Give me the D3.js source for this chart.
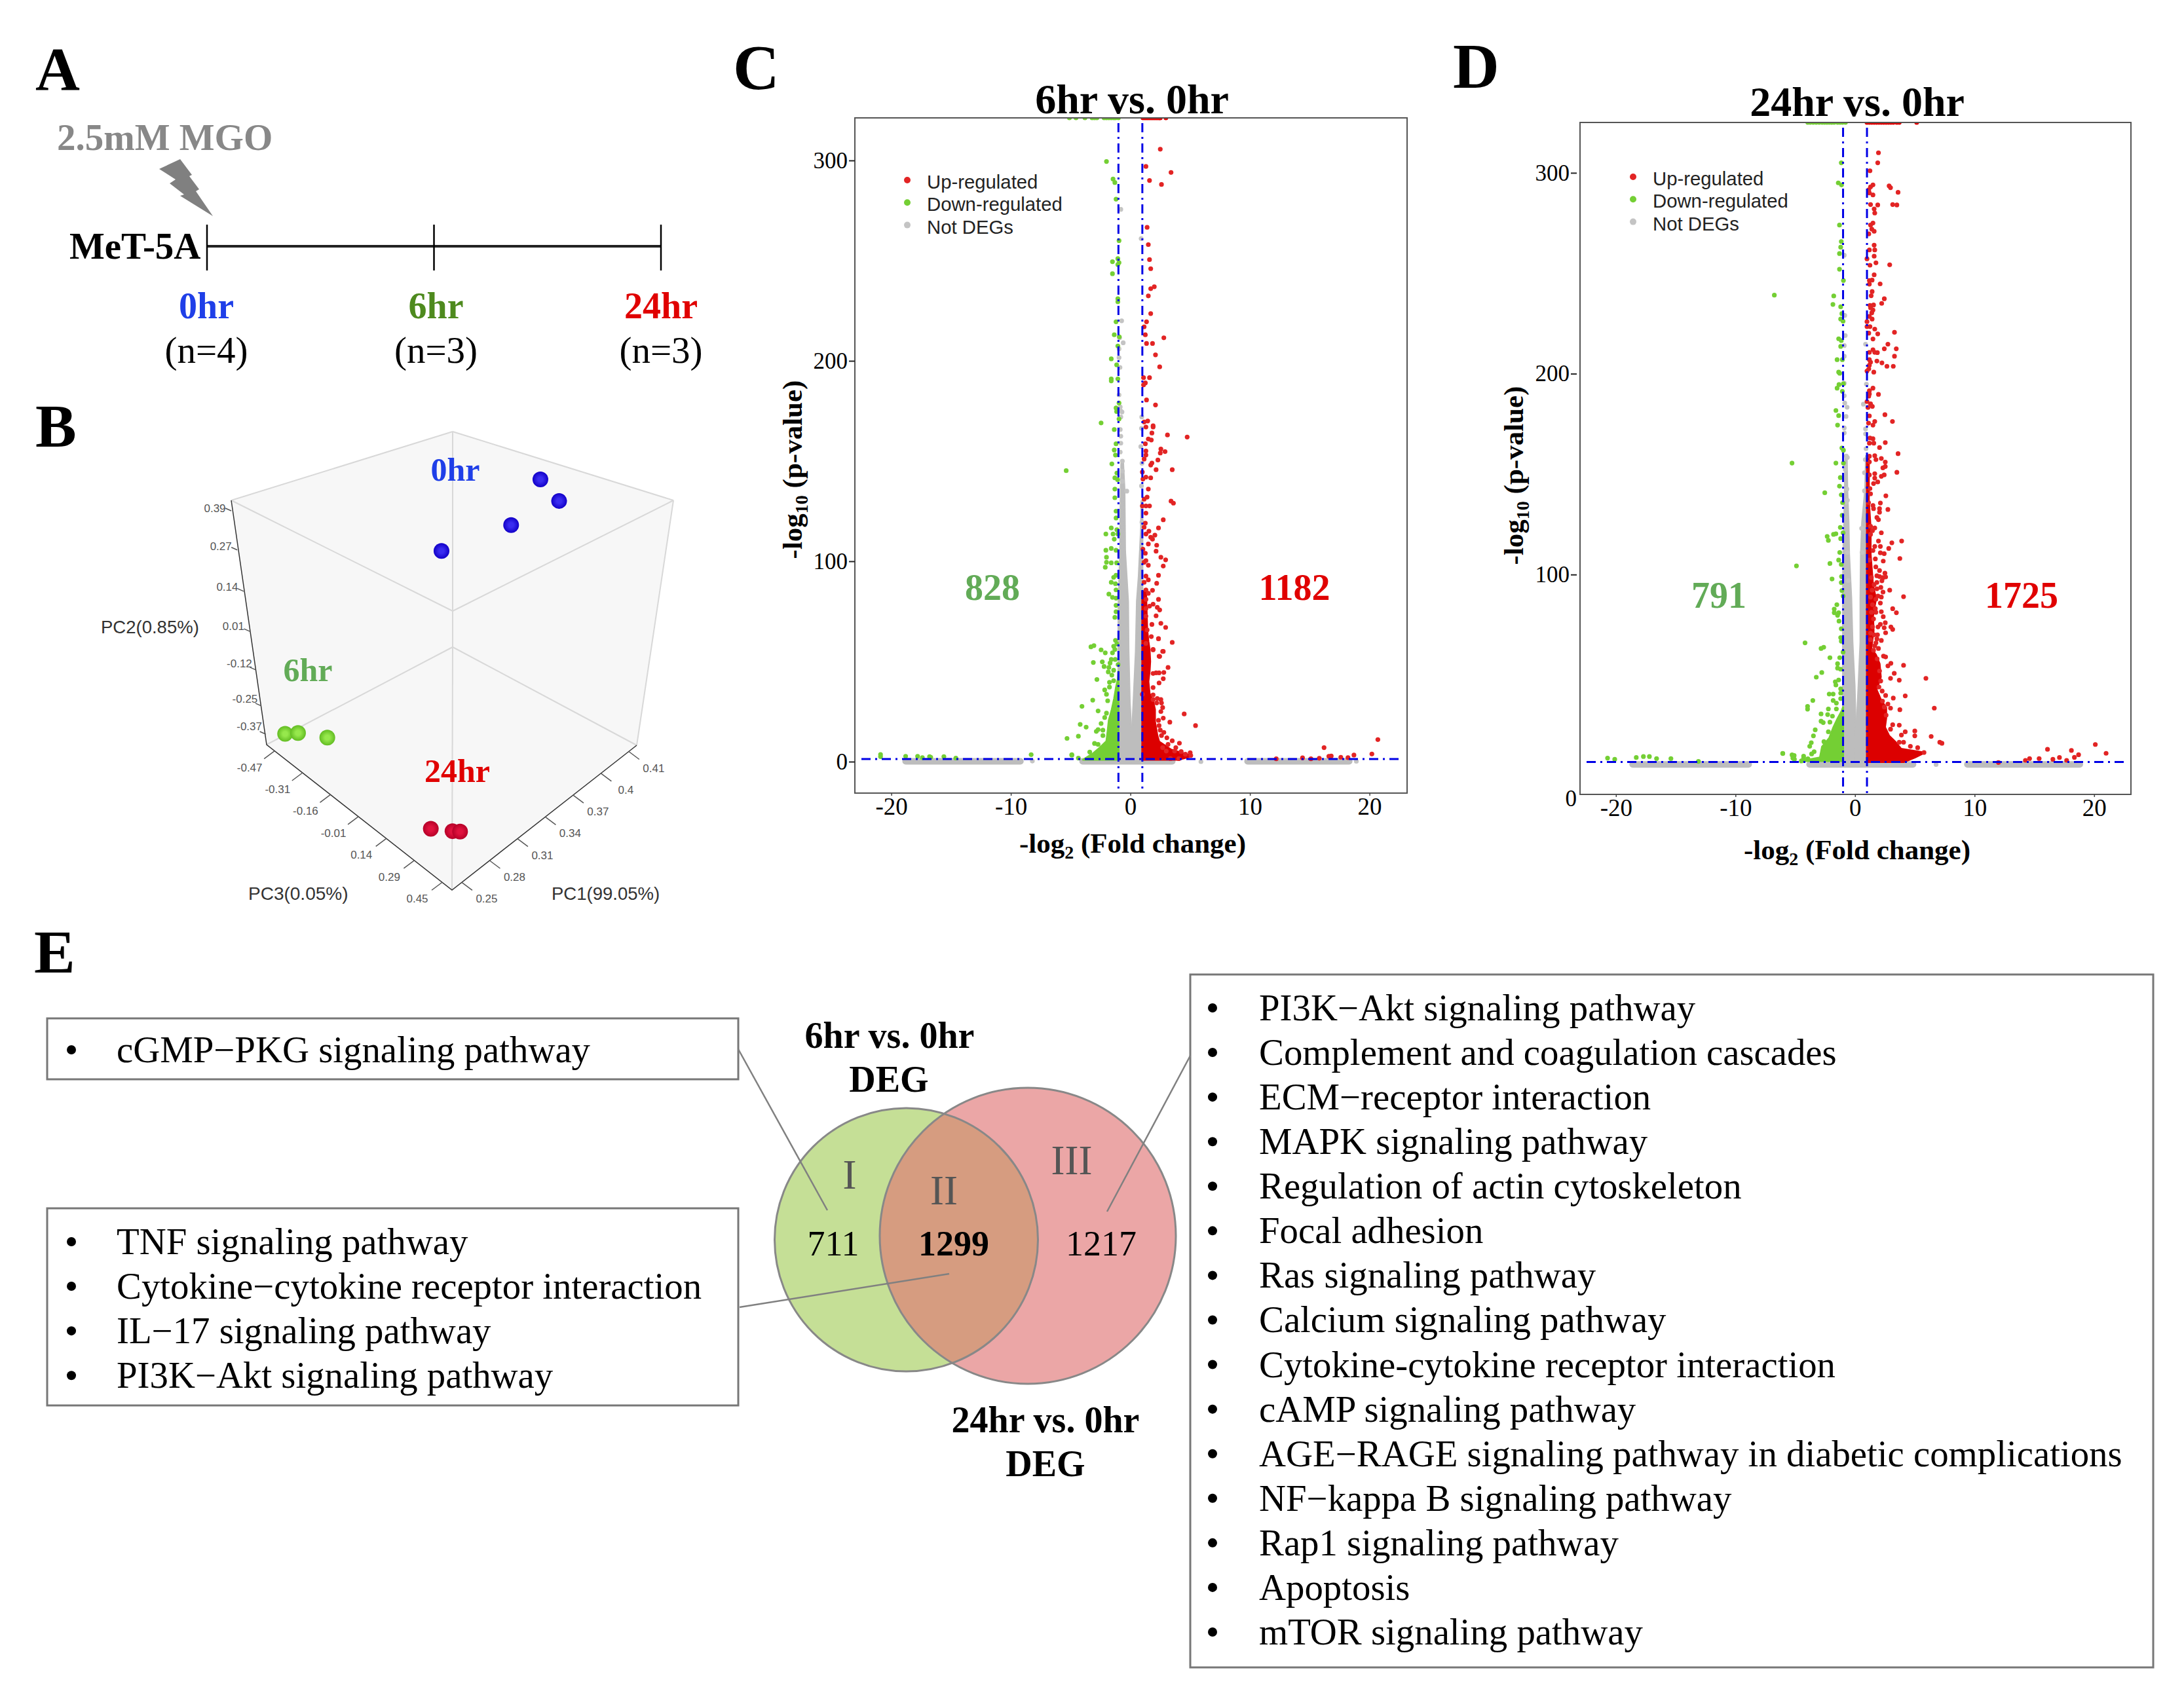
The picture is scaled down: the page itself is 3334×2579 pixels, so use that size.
<!DOCTYPE html>
<html>
<head>
<meta charset="utf-8">
<script src="https://cdn.jsdelivr.net/npm/d3@7"></script>
<style>
body { margin: 0; background: #fff; }
text { font-family: "Liberation Serif", serif; }
.sans { font-family: "Liberation Sans", sans-serif; }
</style>
</head>
<body>
<div id="svg"></div>
<script>
// panel A
var timeLabels = ['0hr', '6hr', '24hr'];
var timeHours = [0, 1, 2];
var timeN = ['(n=4)', '(n=3)', '(n=3)'];

// panel B, PCA values
var pc1Ticks = ['0.25', '0.28', '0.31', '0.34', '0.37', '0.4', '0.41'];
var pc2Ticks = [-0.37, -0.25, -0.12, 0.01, 0.14, 0.27, 0.39];
var pc3Ticks = ['0.45', '0.29', '0.14', '-0.01', '-0.16', '-0.31', '-0.47'];
var pcaZero = [[0.388, 0.314, 0.031], [0.383, 0.314, 0.139], [0.352, 0.314, 0.114], [0.312, 0.314, 0.049]];
var pcaSix = [[0.258, -0.332, -0.419], [0.264, -0.332, -0.390], [0.274, -0.332, -0.303]];
var pcaTwentyFour = [[0.268, -0.332, 0.242], [0.276, -0.332, 0.303], [0.279, -0.332, 0.323]];

// panel C, volcano 6hr vs 0hr, [log2fc, -log10p]
var upC = [[2.5,305.6],[1.3,297],[3.4,294],[1.6,290],[2.6,288],[1.4,266.6],[1.5,258],[1.6,250.5],[1.7,246],[2,237],[1.7,236],[1.5,232.4],[1.7,223.6],[1.35,219.5],[1.15,217],[1.25,213],[2.8,211.5],[1.35,208.7],[1.85,208.7],[2.1,203],[2.45,197],[1.1,191.6],[1.6,191.6],[1.25,189],[1.1,188],[1.35,180.5],[2.1,178],[1.45,170],[1.15,169.5],[1.9,167.6],
[1.3,167],[1.9,167],[1.8,164],[1.5,161],[1.75,160.5],[3.1,163],[4.75,162],[1.25,158.6],[1.3,155],[2.55,156],[2.9,154.7],[2.5,154],[1.3,153],[1.15,151],[2.3,150.5],[1.8,149],[1.7,148],[3.5,145.7],[2.15,145.7],[1,144.5],[1.3,142],[1.7,141.6],[1.05,141],[1.5,136],[1.4,132],[1.15,131],[3.4,130],[3.6,129],[1,127.6],[1.3,127.6],[1.6,127.6],[1.3,124],[2.75,120.7],[1.25,119],[2.35,116.6],[1.15,117],[1.55,115],[2.05,113],[1.3,113.6],[1.7,112],[1.85,111],[1.5,108.6],[2.2,108],[1.05,106],[2.15,105],[1.25,104],[2.55,102],[2.95,100.7],[1.3,100.3],[1.15,99.5],[1.5,98],[2.75,97.6],[2.35,93],[1.3,92.6],[1.5,90.7],[2.2,89],[1.15,89.5],[1.3,85.7],[1.85,85.5],[1.5,84],[2.35,81],[1.3,81],[1.9,78.6],[2.25,77],[2.45,75.7],[1.6,77.6],[1.3,76.4],[2.15,72.8],[1.3,72.6],[2.55,69],[2.95,67],[1.8,68.5],[1.4,65.7],[1.75,62.4],[2.35,61.3],[3.5,59.5],[1.3,59],[1.9,56],[2.75,55],[2.4,52.6],[3.15,47],[2.8,44.5],[2.4,44.3],[2.15,44.3],[1.9,44],[2.75,41.4],[2.4,39.3],[4.5,23.8],[5.45,18],
[2.35,61.4],[2.7,55],[2.45,52.5],[1.9,55.8],[1.9,37],[1,33.6],[1.9,33.3],[2.25,31.5],[2.55,31],[2.6,29.3],[2.7,27],[2.55,25],[2.2,29.3],[1.9,31],[2.75,21.7],[2.35,20.6],[3.3,19.7],[2.4,18],[2.5,15.7],[2.8,14.6],[2.6,13],[3.05,11.9],[3.5,10.4],[3.15,8.6],[4.1,9.2],[3.8,7],[3.7,5.3],[4.25,5],[5,4.5],[5.05,3.1],[4.6,3.7],[4.05,1.5],[3.35,1.5],[2.7,7],[3,5.3],
[16.2,7],[20.7,11],[20.2,3.8],[18.7,3.3],[16.6,2.7],[16.8,2.8],[17.6,2.2],[18.2,2],[12.2,1.4],[14.4,1.9],[15.8,1.7],[15.1,1.4]];
var downC = [[-2,299.5],[-1.45,290.7],[-1.3,289],[-1.2,280.7],[-0.95,260],[-1.5,249.5],[-1.05,251],[-0.95,249],[-1.05,248],[-1.5,243.5],[-1.05,231],[-1.05,229.5],[-1.2,219.5],[-1.35,213],[-0.93,212],[-1.05,207.4],[-1.6,201],[-1.15,198],[-1.6,191],[-1.6,190],[-1.05,191],[-0.95,179],[-1.2,176.5],[-1.15,174.7],[-0.95,171],[-2.45,169],
[-1.35,165.7],[-1.2,158.6],[-1.35,155.5],[-1.25,153],[-1.55,148.6],[-5.37,145.2],[-1.13,144],[-1.3,141.6],[-1.07,140.7],[-1.3,136],[-1.3,131.7],[-1.2,125],[-1.2,121.6],[-1.6,116.6],[-1.13,115.7],[-2.05,113.6],[-1.45,113.6],[-1.04,113.6],[-1.35,111],[-2.05,105.5],[-1.6,106.4],[-1.2,105.5],[-2,102],[-2,99.5],[-1.6,99.2],[-1.15,99.2],[-2.1,97],[-1.4,92],[-1.2,93],[-1.6,89.5],[-1.25,88.8],[-1.2,85.7],[-1.8,83.6],[-1.5,82],[-1.2,81.6],[-1.2,78],[-1.2,74.8],[-1.3,72],[-3.3,57.3],[-3.05,57.9],[-1.25,60.5],[-1.4,57.6],
[-2.45,55.8],[-2.1,54.3],[-1.5,54.3],[-1.13,58.7],[-1.3,56],[-2.35,49.8],[-3.1,49.5],[-1.7,49.2],[-1.6,51],[-1.27,51],[-2.2,47.5],[-1.8,47],[-1.03,48.4],[-1.85,44.8],[-1.4,45.6],[-1.55,43.2],[-2.8,41],[-1.75,39.6],[-1.4,40.4],[-2.15,35.8],[-2,33.6],[-1.75,37.2],[-3.15,30.7],[-1.9,30.4],[-4.05,27.6],[-2.7,25.3],[-2,24.2],[-2.15,22],[-4.2,18.6],[-3.7,17.2],[-2.45,19],[-2.85,15.1],[-2.7,16],[-4.35,12.7],[-5.3,11.6],[-2.3,15.7],[-2.3,13],[-3,9.1],[-2.7,8.6],[-4.9,3.5],[-4.35,1.8],[-3.4,4.8],
[-20.9,2.5],[-20.9,3.6],[-18.8,2.7],[-17.8,2.7],[-17.4,2],[-16.8,2.5],[-16.7,2.2],[-15.6,2.5],[-14.6,1.8],[-8.3,3.5],[-4.9,3.2]];
var grayC = [[-0.8,275.6],[0.9,261],[-0.73,220],[-0.9,211.5],[-0.6,209],[-0.95,206],[-0.95,201.6],[-0.87,196.7],[-0.95,183],[-0.85,177],[-0.8,175],[-0.7,174.5],[-0.8,172],[0.95,172],
[-0.85,165.7],[-0.8,162.4],[-0.8,158.9],[0.93,166.3],[0.87,157.2],[-0.85,154.5],[-0.67,150],[-0.67,145],[-0.67,139.8],[0.97,148.9],[0.93,137.6],[0.97,119.5],[-0.3,135],[-8.2,0.3],[5.9,0],[18.9,0.2]];
var topDownC = [-5.1,-4.55,-3.8,-3.2,-3,-2.8,-2.2,-2,-1.8,-1.6,-1.4,-1.25,-1];
var topUpC = [1.05,1.2,1.35,1.5,1.65,1.8,1.95,2.1,2.25,2.4,2.5,2.97];
// dense clouds, [-log10p, inner edge, outer edge]
var denseUpC = [[1,1,4],[2.8,1,5.15],[4,1,4.5],[6,1,3.4],[10,1,2.4],[13,1,2.25],[20,1,2.05],[26,1,2.05],[30,1,1.9],[34,1,1.6],[40,1,1.5],[45,1,1.6],[50,1,1.65],[56,1,1.6],[60,1,1.5],[66,1,1.4],[85,1,1.3]];
var denseDownC = [[1,-1,-3.95],[4.2,-1,-3.1],[7,-1,-2.55],[10.2,-1,-2],[15,-1,-1.9],[20.6,-1,-1.8],[26,-1,-1.55],[31.5,-1,-1.35],[37,-1,-1.2],[41,-1,-1.05],[45,-1,-1]];
var armLeftC = [[0,-1,0.08],[14,-1,0.08],[30,-1,-0.06],[55,-1,-0.16],[80,-0.98,-0.2],[105,-0.85,-0.45],[136,-0.8,-0.5],[150,-0.75,-0.62]];
var armRightC = [[0,0.12,1],[14,0.14,1],[30,0.27,1],[55,0.46,1],[80,0.55,1],[92,0.7,1],[117,0.9,1],[130,0.92,1]];
var floorC = [[-18.8,-9.2],[-4,3.5],[9.8,18.3]];

// panel D, volcano 24hr vs 0hr
var upD = [[1.96,310],[1.9,305],[1.25,301],[1.5,294],[1.3,293],[1.15,291.5],[2.85,293.5],[2.97,292.6],[3.6,290.3],[1.2,290],[1.5,289],[1.3,284.2],[1.9,284],[1.6,282],[1.65,280],[3.15,284.2],[3.5,284],[1.5,275],[1.3,274],[1.4,272],[1.6,270.9],[1.15,269.6],[1.6,264],[1.2,261.6],[1.65,261.6],[1.6,258.5],[1,257.2],[1.75,255.2],[1.25,254],[2.9,254.2],[1.6,249.2],[1.2,246.4],[1.43,246.6],[1.2,244.6],[2.1,244.7],[1.43,240.9],[1.35,238.8],[2.45,237.3],[2.23,235],[1.25,234],[1.55,234.2],[1.3,232.8],[1.5,231.7],[1.4,230.3],[1.2,228.5],[1.43,227.2],[1,225.9],[1,223.4],[1.25,223.4],[1.65,222.2],[1.15,220.2],[1.9,219.8],[3.3,220.6],[1.5,217.3],[2.75,214.7],[3.45,212.4],[2.45,212.4],[1.5,211.9],[1.2,210.6],[1.65,210.6],[1.87,210.5],[3.3,208.7],[1.2,207],[1.3,205.7],[1.83,206.3],[2.25,205.4],[2.67,203.7],[3.2,203.7],[1.2,204.2],[1.15,202.4],[1,201.3],[1.57,200.8],[1.5,192.8],[1.2,191.5],[1.2,189.9],[1.96,189.7],[1.15,188.8],[1,186.1],[1.3,185],[1.45,183.7],[1.08,183.2],[1.2,179],[2.5,179.6],[3.13,176.2],[1.65,176.2],[1.13,175.4],[1.5,174.4],[1.25,168],[1.5,167.6],[2.53,165.7],[1.2,165.4],[1.57,165.4],
[3.6,160.2],[2.05,163.2],[1.2,158.9],[1.65,159.2],[1.75,157.2],[2.2,157.8],[2.53,156],[2.53,153.8],[2.33,153.1],[1.2,156.1],[3.5,150.9],[1.65,150.2],[1.2,149.6],[2.44,149.6],[2.2,148.9],[1.65,148],[1.9,146.1],[1.55,145.3],[1.25,142.8],[1.3,140.2],[2.58,139.2],[1.13,135.8],[2.12,135.6],[1.5,134.4],[2.05,132.8],[2.75,132.4],[1.55,132.8],[2.05,131],[1.83,128.4],[1.96,127.3],[1.3,124],[1.65,123.2],[1.46,121.9],[2.2,120.8],[1.3,120],[1.96,116.7],[3.08,115.8],[3.9,116.7],[1.65,114],[2.12,114],[2.82,113],[2.12,110.8],[2.44,110.4],[3.75,108],[1.7,107.8],[2.36,106.7],[1.2,107.2],[1.74,103.8],[2.05,102],[2.5,100.7],[1.83,99.4],[2.05,99],[2.56,98.8],[2.34,98.5],[2.25,96.9],[1.83,96.1],[1.37,98.5],[2.16,93.6],[1.83,92.9],[1.43,92.2],[2.34,91.3],[2.9,92.2],[4.06,89],[1.92,89.3],[2.2,88.8],[1.3,88.8],[1.74,87.7],[2.12,85.8],[1.46,85],[3.15,83],[3.46,81],[2.2,81.5],[1.37,81.2],[1.74,81.2],[2.36,79],[1.55,77.9],[2.53,76],[2.12,75.2],[1.92,73.9],[2.44,73.5],[3,73.9],[3.15,72.7],[2.56,71],[1.46,74],[1.3,70.8],[1.88,70],[1.83,68],[2.2,67.2],[1.3,67.6],[1.65,64.5],[1.96,63.2],[1.55,62.3],[2.38,59.4],[2.56,59],[3,55.8],[2.75,54.5],[4.06,54.8],[3.28,50.8],[2.97,48.3],[3.7,47.4],[5.93,48.3],[2.27,42],[2.56,39.8],[3.2,38.5],[4.2,39.6],[2.75,35.5],[2.97,33.5],[3.75,32.7],[6.63,33.5],[3.7,25],[3.15,25.2],[2.97,23],[4.2,21.7],[3.88,20.1],[5,22.1],[5,19.7],[6.37,19.4],[7.09,16.5],[7.27,16],[5.24,13.8],[4.63,14.5],[4.06,16.5],[3.7,16.5],[5.77,11.4],
[2.6,30],[2.45,34],[2.3,37],[2.15,47],[2.05,52],[2,44],[1.85,58],[1.75,66],[1.6,70],[1.7,83],[1.6,95],[1.5,112],
[20.1,15.4],[21,11],[16.1,13],[18.1,12.4],[18.7,10.3],[18.35,9],[17.7,7.5],[15.4,8.4],[14.6,8.4],[14.25,7.5],[16.55,8],[17.1,8.9],[12,6.4]];
var downD = [[-1.15,305],[-1.4,295],[-1.13,294],[-1.3,274],[-1.15,265.8],[-1.2,263],[-1.3,259.8],[-1.3,252],[-0.97,246.4],[-6.75,239.1],[-1.78,238.7],[-1.85,234.5],[-1.2,233.3],[-1.1,229.9],[-1.2,227.2],[-1,226.1],[-1.37,217.4],[-1.15,216.5],[-1.2,213.6],[-1.5,207],[-1.06,207],[-1.37,200.8],[-1.28,200.2],[-1.34,194.6],[-1.5,192.8],[-0.97,195],[-1.06,191.2],[-1.6,181.7],[-1.37,179.1],[-1.46,174.4],
[-1.1,163],[-0.97,161.9],[-5.27,155.5],[-1.6,155.5],[-0.97,155.5],[-1.23,148.3],[-1.3,144],[-2.53,140.7],[-1.15,139.7],[-1.04,135.8],[-1.08,129.5],[-1.23,123.5],[-1,120.8],[-1.6,120.3],[-1.8,120],[-2.33,119],[-2.23,117],[-1.2,117.9],[-1.28,111],[-1.37,107.2],[-1.15,105],[-2.1,105.5],[-4.9,104.3],[-1.13,99],[-1.92,97.8],[-1.15,96],[-1.1,92],[-1,89.3],[-1.52,85],[-1.74,82.8],[-1.74,81],[-1.37,81],[-1.46,79.7],[-1.34,76.8],[-1.15,73],[-1.2,68.6],[-1.15,66.8],[-4.18,66],[-2.84,63.2],[-2.62,63.8],[-1,61.4],[-2.1,58.6],[-1.28,58.6],[-1.46,55.6],[-1.46,53.4],[-1.2,52.9],[-2.78,51.2],[-3.24,48.9],[-1.65,46.6],[-1.37,47.5],[-1.6,45],[-1.2,43.1],[-2.16,40.5],[-1.83,40.5],[-1.2,41],[-1.2,38.2],[-3.53,37.3],[-1.83,37.3],[-1.56,36],[-3.97,34.4],[-3.97,33],[-2.23,33.1],[-1.56,33.1],[-2.84,30.6],[-2.29,30.3],[-1.89,29.5],[-2.84,27],[-2.66,26.3],[-2.1,26.5],[-3.33,22.7],[-2.23,21.7],[-3.48,19.7],[-3.66,16.3],[-3.79,14.5],[-2.6,16.8],[-3.42,11.8],[-3.63,10.7],[-6.04,10.9],[-5.27,10.2],[-5.09,9.9],[-5.07,8],[-4.3,9.6],[-4.49,7.2],[-3.94,8.3],
[-20.7,8.6],[-20.1,8],[-18.3,8.9],[-17.7,9.4],[-17.2,9.4],[-16.6,8.4],[-15.4,8.4],[-13.1,7],[-6.05,11],[-5.2,10],[-5.2,8.6],[-4.3,8.6]];
var grayD = [[-0.9,259],[-0.82,219],[-0.9,214],[0.88,214.7],[-0.9,208.7],[-0.86,229],[-0.9,195.3],[0.95,194.8],[-0.9,189],[-0.86,185.4],[-0.66,183.3],[0.7,184.8],[-0.75,178.7],[-0.9,173],[-0.9,170.5],[0.88,172.5],[0.88,170],
[-0.73,159],[-0.64,158.3],[-0.82,154],[-0.82,152.3],[0.92,162.7],[0.86,157.2],[0.79,150.7],[0.97,145.6],[0.79,141.7],[-0.68,142.6],[-0.73,136],[-0.64,137],[0.55,123],[0.6,111],[-0.64,111],[-0.55,97],[6.78,5.4]];
var topDownD = [-3.95,-3.75,-3.5,-3.25,-3,-2.75,-2.55,-2.35,-2.15,-1.95,-1.75,-1.45,-1.25,-1.05,-0.8];
var topUpD = [1,1.2,1.4,1.6,1.8,2,2.2,2.4,2.6,2.8,3,3.2,3.5,3.7,5.16];
var denseUpD = [[6.7,1,4.1],[8.9,1,5],[11.3,1,5.8],[13.2,1,3.85],[16.5,1,3.4],[19.7,1,2.85],[24,1,2.5],[28.4,1,2.6],[33.9,1,2.6],[37.1,1,2.2],[42.6,1,1.8],[49,1,2.15],[55.6,1,2.05],[60,1,1.75],[63,1,1.35],[72,1,1.55],[79.5,1,1.5],[88,1,1.75],[94.7,1,1.5],[110,1,1.3],[123,1,1.3],[137,1,1.15],[158,1,1.15]];
var denseDownD = [[7.2,-1,-4.5],[8.9,-1,-2.93],[14.3,-1,-2.75],[18.6,-1,-2.15],[24,-1,-1.8],[28.4,-1,-1.45],[32.2,-1,-1.1],[34,-1,-1]];
var armLeftD = [[6,-1,0.08],[22,-1,0.06],[44.7,-1,-0.04],[66.5,-1,-0.22],[88.2,-1,-0.32],[110,-0.98,-0.5],[126,-0.9,-0.55],[142,-0.85,-0.65],[159,-0.8,-0.7]];
var armRightD = [[6,0.12,1],[22,0.12,1],[44.7,0.3,1],[66.5,0.46,1],[88.2,0.46,1],[110,0.5,1],[126,0.6,1],[142,0.85,1],[159,0.92,1]];
var floorD = [[-18.6,-8.9],[-3.8,4.85],[9.4,18.8]];

var xTickValues = [-20, -10, 0, 10, 20];
var legendLabels = ['Up-regulated', 'Down-regulated', 'Not DEGs'];

// panel E
var pathwaysOnly6 = ['cGMP\u2212PKG signaling pathway'];
var pathwaysShared = ['TNF signaling pathway', 'Cytokine\u2212cytokine receptor interaction', 'IL\u221217 signaling pathway', 'PI3K\u2212Akt signaling pathway'];
var pathwaysOnly24 = ['PI3K\u2212Akt signaling pathway', 'Complement and coagulation cascades', 'ECM\u2212receptor interaction', 'MAPK signaling pathway', 'Regulation of actin cytoskeleton', 'Focal adhesion', 'Ras signaling pathway', 'Calcium signaling pathway', 'Cytokine-cytokine receptor interaction', 'cAMP signaling pathway', 'AGE\u2212RAGE signaling pathway in diabetic complications', 'NF\u2212kappa B signaling pathway', 'Rap1 signaling pathway', 'Apoptosis', 'mTOR signaling pathway'];
var vennCounts = ['711', '1299', '1217'];
var vennRoman = ['I', 'II', 'III'];

var RED = '#e00000', DOT_RED = '#e22424', DOT_GREEN = '#74cf34', GRAY = '#bdbdbd', BLUE = '#0000e6';

var svg = d3.select('#svg').append('svg').attr('width', 3334).attr('height', 2579);
svg.append('rect').attr('width', 3334).attr('height', 2579).attr('fill', '#fff');

function label(g, x, y, str, size, opts) {
	opts = opts || {};
	return g.append('text')
		.attr('x', x).attr('y', y)
		.attr('font-size', size)
		.attr('font-weight', opts.bold ? 'bold' : 'normal')
		.attr('text-anchor', opts.anchor || 'middle')
		.attr('fill', opts.fill || '#000')
		.attr('class', opts.cls || null)
		.text(str);
}

// panel letters
label(svg, 54, 137, 'A', 94, {bold: true, anchor: 'start'});
label(svg, 54, 682, 'B', 94, {bold: true, anchor: 'start'});
label(svg, 1119, 136, 'C', 98, {bold: true, anchor: 'start'});
label(svg, 2218, 134, 'D', 98, {bold: true, anchor: 'start'});
label(svg, 52, 1485, 'E', 94, {bold: true, anchor: 'start'});

/* A: timeline */
var ga = svg.append('g');
var tx = d3.scaleLinear().domain([0, 2]).range([316, 1009]);
label(ga, 87, 229, '2.5mM MGO', 57, {bold: true, anchor: 'start', fill: '#888'});
ga.append('polygon')
	.attr('points', '275,243 243,258 268,274 259,280 281,297 275,299 325,330 299,292 304,289 289,269 293,267')
	.attr('fill', '#808080');
ga.append('line').attr('x1', tx(0)).attr('x2', tx(2)).attr('y1', 376).attr('y2', 376)
	.attr('stroke', '#222').attr('stroke-width', 4);
ga.selectAll('.tick-a').data(timeHours).enter().append('line')
	.attr('x1', tx).attr('x2', tx).attr('y1', 343).attr('y2', 413)
	.attr('stroke', '#000').attr('stroke-width', 2.5);
label(ga, 106, 395, 'MeT-5A', 57, {bold: true, anchor: 'start'});
var timeColors = ['#1f3fe8', '#4e8a1e', RED];
var timeShift = [-1, 3, 0];
ga.selectAll('.tl').data(timeLabels).enter().append('text')
	.attr('x', function(d, i) { return tx(i) + timeShift[i]; }).attr('y', 486)
	.attr('text-anchor', 'middle').attr('font-weight', 'bold').attr('font-size', 56)
	.attr('fill', function(d, i) { return timeColors[i]; })
	.text(function(d) { return d; });
ga.selectAll('.tn').data(timeN).enter().append('text')
	.attr('x', function(d, i) { return tx(i) + timeShift[i]; }).attr('y', 554)
	.attr('text-anchor', 'middle').attr('font-size', 57)
	.text(function(d) { return d; });

/* B: 3D PCA */
var gb = svg.append('g');
var pc1Scale = d3.scaleLinear().domain([0.25, 0.41]).range([0, 1]);
var pc2Scale = d3.scaleLinear().domain([-0.37, 0.39]).range([0, 1]);
var pc3Scale = d3.scaleLinear().domain([0.45, -0.47]).range([0, 1]);

function project(p) {
	var a = pc1Scale(p[0]), c = pc2Scale(p[1]), b = pc3Scale(p[2]);
	return [690 + (a - b) * 282 * (1 + c * 0.195), 1359 - (a + b) * 221 - c * 373];
}

var cubeOutline = [[691,659],[1028,764],[972,1138],[690,1359],[407,1137],[353,764]];
gb.append('polygon').attr('points', cubeOutline.join(' ')).attr('fill', '#f7f7f7');
var cubeEdges = [[[691,659],[1028,764]],[[691,659],[353,764]],[[353,764],[691,933]],[[1028,764],[691,933]],[[691,659],[691,988]],
	[[407,1137],[691,988]],[[972,1138],[691,988]],[[691,988],[690,1359]],[[1028,764],[972,1138]]];
gb.selectAll('.edge').data(cubeEdges).enter().append('line')
	.attr('x1', function(d) { return d[0][0]; }).attr('y1', function(d) { return d[0][1]; })
	.attr('x2', function(d) { return d[1][0]; }).attr('y2', function(d) { return d[1][1]; })
	.attr('stroke', '#d8d8d8').attr('stroke-width', 2);
gb.append('path').attr('d', 'M353,764L407,1137L690,1359L972,1138')
	.attr('fill', 'none').attr('stroke', '#333').attr('stroke-width', 1.5);

var pc1Pos = d3.scalePoint().domain(pc1Ticks).range([0.053, 0.957]);
pc1Ticks.forEach(function(t) {
	var f = pc1Pos(t), x = 690 + f * 282, y = 1359 - f * 221;
	gb.append('line').attr('x1', x).attr('y1', y).attr('x2', x + 16).attr('y2', y + 12).attr('stroke', '#555').attr('stroke-width', 1.5);
	label(gb, x + 38, y + 31, t, 17, {cls: 'sans', fill: '#555'});
});
var pc3Pos = d3.scalePoint().domain(pc3Ticks).range([0.053, 0.957]);
pc3Ticks.forEach(function(t) {
	var f = pc3Pos(t), x = 690 - f * 283, y = 1359 - f * 222;
	gb.append('line').attr('x1', x).attr('y1', y).attr('x2', x - 16).attr('y2', y + 12).attr('stroke', '#555').attr('stroke-width', 1.5);
	label(gb, x - 38, y + 31, t, 17, {cls: 'sans', fill: '#555'});
});
var pc2Pos = d3.scalePow().exponent(1.12).domain([0, 0.76]).range([0, 1]);
pc2Ticks.forEach(function(t) {
	var f = pc2Pos(t + 0.37), x = 405.6 - f * 52.6, y = 1121 - f * 341;
	gb.append('line').attr('x1', x).attr('y1', y).attr('x2', x - 9).attr('y2', y - 4).attr('stroke', '#555').attr('stroke-width', 1.5);
	label(gb, x - 25, y + 2 - (1 - f) * 8, t.toFixed(2), 17, {cls: 'sans', fill: '#555'});
});
label(gb, 154, 967, 'PC2(0.85%)', 27.5, {anchor: 'start', cls: 'sans', fill: '#333'});
label(gb, 379, 1374, 'PC3(0.05%)', 28, {anchor: 'start', cls: 'sans', fill: '#333'});
label(gb, 842, 1374, 'PC1(99.05%)', 27.5, {anchor: 'start', cls: 'sans', fill: '#333'});

var defs = svg.append('defs');
[['ballBlue', '#3a2cf0', '#1200c8'], ['ballGreen', '#96e84c', '#62bc22'], ['ballRed', '#e0123e', '#b60028']].forEach(function(c) {
	var grad = defs.append('radialGradient').attr('id', c[0]);
	grad.append('stop').attr('offset', '30%').attr('stop-color', c[1]);
	grad.append('stop').attr('offset', '100%').attr('stop-color', c[2]);
});
[[pcaZero, 'ballBlue'], [pcaSix, 'ballGreen'], [pcaTwentyFour, 'ballRed']].forEach(function(s) {
	gb.selectAll(null).data(s[0]).enter().append('circle')
		.attr('cx', function(d) { return project(d)[0]; })
		.attr('cy', function(d) { return project(d)[1]; })
		.attr('r', 12).attr('fill', 'url(#' + s[1] + ')');
});
label(gb, 695, 734, '0hr', 50, {bold: true, fill: '#1f3fe8'});
label(gb, 470, 1040, '6hr', 50, {bold: true, fill: '#62ab57'});
label(gb, 698, 1194, '24hr', 50, {bold: true, fill: RED});

/* C, D: volcano plots */
function volcano(cfg) {
	var g = svg.append('g');
	var x = d3.scaleLinear().domain([(cfg.left - cfg.x0) / 18.25, (cfg.right - cfg.x0) / 18.25]).range([cfg.left, cfg.right]);
	var y = d3.scaleLinear().domain([(cfg.y0 - cfg.bottom) / cfg.yUnit, (cfg.y0 - cfg.top) / cfg.yUnit]).range([cfg.bottom, cfg.top]);
	var topValue = y.domain()[1];

	var clipId = 'clip' + cfg.id;
	defs.append('clipPath').attr('id', clipId).append('rect')
		.attr('x', cfg.left).attr('y', cfg.top)
		.attr('width', cfg.right - cfg.left).attr('height', cfg.bottom - cfg.top);
	var plot = g.append('g').attr('clip-path', 'url(#' + clipId + ')');

	function cloud(rows, fill) {
		var area = d3.area()
			.x0(function(d) { return x(d[1]); })
			.x1(function(d) { return x(d[2]); })
			.y(function(d) { return y(d[0]); });
		plot.append('path').attr('d', area(rows)).attr('fill', fill)
			.attr('stroke', fill).attr('stroke-width', 3).attr('stroke-linejoin', 'round');
	}
	function dots(rows, fill) {
		plot.selectAll(null).data(rows).enter().append('circle')
			.attr('cx', function(d) { return x(d[0]); })
			.attr('cy', function(d) { return y(d[1]); })
			.attr('r', 3.6).attr('fill', fill);
	}

	cfg.floor.forEach(function(f) {
		plot.append('line').attr('x1', x(f[0])).attr('x2', x(f[1]))
			.attr('y1', y(cfg.floorLevel)).attr('y2', y(cfg.floorLevel))
			.attr('stroke', GRAY).attr('stroke-width', 10).attr('stroke-linecap', 'round');
	});
	cloud(cfg.armLeft, GRAY);
	cloud(cfg.armRight, GRAY);
	dots(cfg.gray, '#c4c4c4');
	cloud(cfg.denseDown, DOT_GREEN);
	dots(cfg.down, DOT_GREEN);
	cloud(cfg.denseUp, '#dc0000');
	dots(cfg.up, DOT_RED);
	dots(cfg.topDown.map(function(v) { return [v, topValue]; }), DOT_GREEN);
	dots(cfg.topUp.map(function(v) { return [v, topValue]; }), '#e00000');

	// threshold lines
	[-1, 1].forEach(function(v) {
		g.append('line').attr('x1', x(v)).attr('x2', x(v)).attr('y1', cfg.top + 8).attr('y2', cfg.bottom)
			.attr('stroke', BLUE).attr('stroke-width', 3).attr('stroke-dasharray', '14 7 3 7');
	});
	g.append('line').attr('x1', cfg.left + 10).attr('x2', cfg.right - 7).attr('y1', y(cfg.pLine)).attr('y2', y(cfg.pLine))
		.attr('stroke', BLUE).attr('stroke-width', 3).attr('stroke-dasharray', '14 7 3 7');

	g.append('rect').attr('x', cfg.left).attr('y', cfg.top)
		.attr('width', cfg.right - cfg.left).attr('height', cfg.bottom - cfg.top)
		.attr('fill', 'none').attr('stroke', '#555').attr('stroke-width', 2);

	// axes
	var xAxis = g.append('g').attr('transform', 'translate(0,' + cfg.bottom + ')')
		.call(d3.axisBottom(x).tickValues(xTickValues).tickSize(4));
	xAxis.select('.domain').remove();
	xAxis.selectAll('line').attr('stroke', '#444').attr('stroke-width', 1.5);
	xAxis.selectAll('text').attr('font-size', 37).attr('fill', '#000').attr('y', 0).attr('dy', cfg.xTickDy)
		.attr('font-family', '"Liberation Serif"').text(function(d) { return String(d); });

	var yAxis = g.append('g').attr('transform', 'translate(' + (cfg.left - cfg.yGap) + ',0)')
		.call(d3.axisLeft(y).tickValues(cfg.yTicks).tickSize(9).tickPadding(2));
	yAxis.select('.domain').remove();
	yAxis.selectAll('line').attr('stroke', '#222').attr('stroke-width', 2);
	yAxis.selectAll('text').attr('font-size', 35).attr('fill', '#000')
		.attr('font-family', '"Liberation Serif"');

	// titles
	label(g, cfg.titleX, cfg.titleY, cfg.title, 64, {bold: true});
	var xt = g.append('text').attr('x', cfg.xTitleX).attr('y', cfg.xTitleY).attr('text-anchor', 'middle')
		.attr('font-size', 43).attr('font-weight', 'bold');
	xt.append('tspan').text('-log');
	xt.append('tspan').attr('font-size', 28).attr('dy', 9).text('2');
	xt.append('tspan').attr('dy', -9).text(' (Fold change)');
	var yt = g.append('text').attr('transform', 'translate(' + cfg.yTitleX + ',' + cfg.yTitleY + ') rotate(-90)')
		.attr('text-anchor', 'middle').attr('font-size', 43).attr('font-weight', 'bold');
	yt.append('tspan').text('-log');
	yt.append('tspan').attr('font-size', 28).attr('dy', 9).text('10');
	yt.append('tspan').attr('dy', -9).text(' (p-value)');

	// legend
	var legendColors = [DOT_RED, DOT_GREEN, '#c4c4c4'];
	legendLabels.forEach(function(t, i) {
		g.append('circle').attr('cx', cfg.legendX).attr('cy', cfg.legendY + i * 34.3).attr('r', 5).attr('fill', legendColors[i]);
		label(g, cfg.legendX + 30, cfg.legendY + 13 + i * 34.3, t, 29.3, {anchor: 'start', cls: 'sans', fill: '#222'});
	});

	label(g, cfg.downX, cfg.countY, cfg.downCount, 56, {bold: true, fill: '#62ab57'});
	label(g, cfg.upX, cfg.countY, cfg.upCount, 56, {bold: true, fill: RED});
	return {g: g, x: x, y: y};
}

volcano({
	id: 'C', left: 1305, right: 2148, top: 180, bottom: 1211, x0: 1725.6, y0: 1163, yUnit: 3.06, yGap: 0,
	yTicks: [0, 100, 200, 300], pLine: 1.3, floorLevel: 0.15, xTickDy: 33,
	up: upC, down: downC, gray: grayC, topUp: topUpC, topDown: topDownC,
	denseUp: denseUpC, denseDown: denseDownC, armLeft: armLeftC, armRight: armRightC, floor: floorC,
	title: '6hr vs. 0hr', titleX: 1728, titleY: 173, xTitleX: 1729, xTitleY: 1302, yTitleX: 1224, yTitleY: 717,
	legendX: 1385, legendY: 275, downX: 1515, upX: 1976, countY: 916, downCount: '828', upCount: '1182'
});
var panelD = volcano({
	id: 'D', left: 2412, right: 3253, top: 187, bottom: 1213, x0: 2831.8, y0: 1184, yUnit: 3.067, yGap: 5,
	yTicks: [100, 200, 300], pLine: 6.7, floorLevel: 5.5, xTickDy: 33,
	up: upD, down: downD, gray: grayD, topUp: topUpD, topDown: topDownD,
	denseUp: denseUpD, denseDown: denseDownD, armLeft: armLeftD, armRight: armRightD, floor: floorD,
	title: '24hr vs. 0hr', titleX: 2835, titleY: 177, xTitleX: 2835, xTitleY: 1312, yTitleX: 2325, yTitleY: 726,
	legendX: 2493, legendY: 270, downX: 2624, upX: 3086, countY: 928, downCount: '791', upCount: '1725'
});
// the 0 label of panel D sits at the bottom of the frame, without a tick
label(panelD.g, 2407, 1231, '0', 35, {anchor: 'end'});

/* E: venn and pathway boxes */
var ge = svg.append('g');
function pathwayBox(items, x0, y0, x1, y1, bulletX, textX, firstBase) {
	ge.append('rect').attr('x', x0).attr('y', y0).attr('width', x1 - x0).attr('height', y1 - y0)
		.attr('fill', '#fff').attr('stroke', '#777').attr('stroke-width', 3);
	items.forEach(function(t, i) {
		var base = firstBase + i * 68.07;
		ge.append('circle').attr('cx', bulletX).attr('cy', base - 19).attr('r', 7).attr('fill', '#000');
		label(ge, textX, base, t, 56.8, {anchor: 'start'});
	});
}
pathwayBox(pathwaysOnly6, 72, 1555, 1127, 1648, 109, 178, 1622);
pathwayBox(pathwaysShared, 72, 1845, 1127, 2146, 109, 178, 1915);
pathwayBox(pathwaysOnly24, 1817, 1488, 3287, 2546, 1851, 1922, 1558);

var green = {cx: 1383.5, cy: 1893, r: 201}, pink = {cx: 1569, cy: 1887, r: 226};
defs.append('clipPath').attr('id', 'vennClip').append('circle').attr('cx', pink.cx).attr('cy', pink.cy).attr('r', pink.r);
ge.append('circle').attr('cx', green.cx).attr('cy', green.cy).attr('r', green.r).attr('fill', '#c5df96');
ge.append('circle').attr('cx', pink.cx).attr('cy', pink.cy).attr('r', pink.r).attr('fill', '#eba6a6');
ge.append('circle').attr('cx', green.cx).attr('cy', green.cy).attr('r', green.r).attr('fill', '#d69c80').attr('clip-path', 'url(#vennClip)');
[green, pink].forEach(function(c) {
	ge.append('circle').attr('cx', c.cx).attr('cy', c.cy).attr('r', c.r)
		.attr('fill', 'none').attr('stroke', '#888').attr('stroke-width', 3);
});
[[1127, 1602, 1263, 1848], [1129, 1996, 1449, 1945], [1817, 1612, 1690, 1850]].forEach(function(l) {
	ge.append('line').attr('x1', l[0]).attr('y1', l[1]).attr('x2', l[2]).attr('y2', l[3])
		.attr('stroke', '#808080').attr('stroke-width', 2.5);
});
label(ge, 1358, 1600, '6hr vs. 0hr', 56, {bold: true});
label(ge, 1357, 1667, 'DEG', 56, {bold: true});
label(ge, 1596, 2187, '24hr vs. 0hr', 56, {bold: true});
label(ge, 1596, 2254, 'DEG', 56, {bold: true});
label(ge, 1297, 1815, vennRoman[0], 63, {fill: '#555'});
label(ge, 1441, 1839, vennRoman[1], 63, {fill: '#555'});
label(ge, 1636, 1793, vennRoman[2], 63, {fill: '#555'});
label(ge, 1272, 1917, vennCounts[0], 54);
label(ge, 1456, 1917, vennCounts[1], 54, {bold: true});
label(ge, 1681, 1917, vennCounts[2], 54);
</script>
</body>
</html>
